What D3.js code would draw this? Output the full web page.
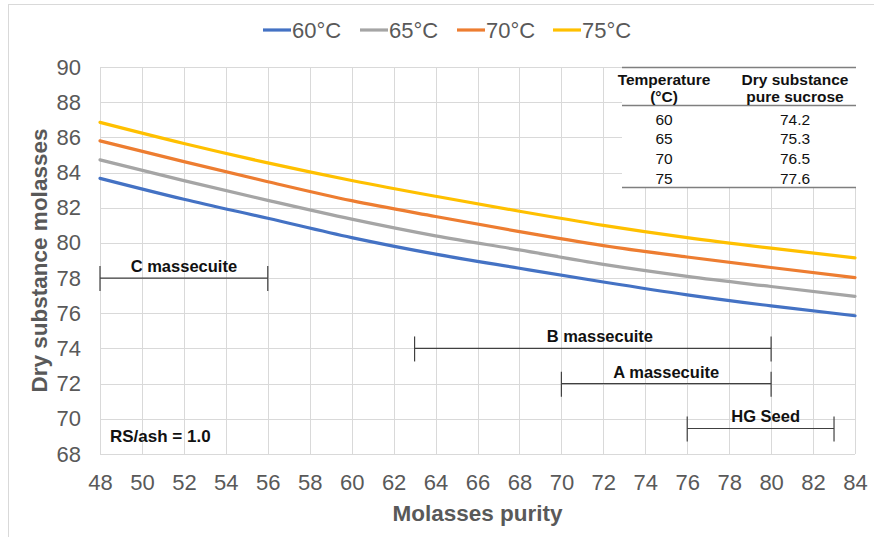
<!DOCTYPE html>
<html>
<head>
<meta charset="utf-8">
<script src="https://cdn.jsdelivr.net/npm/d3@7"></script>
<style>
  body { margin: 0; background: #fff; }
  svg { display: block; font-family: "Liberation Sans", Arial, sans-serif; }
</style>
</head>
<body>
<div id="chart"></div>
<script>
const purity = [48, 52, 56, 60, 64, 68, 72, 76, 80, 84]

const ds60 = [83.67, 82.48, 81.4, 80.3, 79.36, 78.56, 77.78, 77.05, 76.42, 75.86]
const ds65 = [84.72, 83.54, 82.42, 81.35, 80.4, 79.6, 78.78, 78.1, 77.52, 76.96]
const ds70 = [85.8, 84.62, 83.48, 82.4, 81.5, 80.64, 79.85, 79.2, 78.6, 78.03]
const ds75 = [86.85, 85.65, 84.55, 83.55, 82.65, 81.8, 81.0, 80.3, 79.7, 79.15]

const seriesNames = ['60°C', '65°C', '70°C', '75°C']
const seriesColors = ['#4472c4', '#a5a5a5', '#ed7d31', '#ffc000']

const xTicks = d3.range(48, 85, 2)
const yTicks = d3.range(68, 91, 2)

// ranges: label, from, to, level
const rangeLabels = ['C massecuite', 'B massecuite', 'A massecuite', 'HG Seed']
const rangeFrom = [48, 63, 70, 76]
const rangeTo = [56, 80, 80, 83]
const rangeLevel = [78, 74, 72, 69.45]

const tableTemp = ['60', '65', '70', '75']
const tableDs = ['74.2', '75.3', '76.5', '77.6']

const width = 874, height = 537
const margin = {top: 67, right: 19, bottom: 83, left: 100}

const svg = d3.select('#chart').append('svg')
  .attr('width', width)
  .attr('height', height)

// outer chart border
svg.append('rect')
  .attr('x', 8.5).attr('y', 4.5)
  .attr('width', 900).attr('height', 600)
  .attr('fill', '#fff')
  .attr('stroke', '#d9d9d9')

const x = d3.scaleLinear().domain([48, 84]).range([margin.left, width - margin.right])
const y = d3.scaleLinear().domain([68, 90]).range([height - margin.bottom, margin.top])

// grid
svg.append('g')
  .selectAll('line.v')
  .data(xTicks)
  .enter().append('line')
  .attr('x1', d => Math.round(x(d)) + 0.5)
  .attr('x2', d => Math.round(x(d)) + 0.5)
  .attr('y1', y(90)).attr('y2', y(68))
  .attr('stroke', '#d9d9d9')

svg.append('g')
  .selectAll('line.h')
  .data(yTicks)
  .enter().append('line')
  .attr('x1', x(48)).attr('x2', x(84))
  .attr('y1', d => Math.round(y(d)) + 0.5)
  .attr('y2', d => Math.round(y(d)) + 0.5)
  .attr('stroke', '#d9d9d9')

// axes (labels only)
const xaxis = svg.append('g')
  .attr('transform', 'translate(0,' + (height - margin.bottom) + ')')
  .call(d3.axisBottom(x).tickValues(xTicks).tickSize(0).tickPadding(20))
xaxis.select('.domain').remove()
xaxis.selectAll('text').style('font-size', '22px').attr('fill', '#595959')

const yaxis = svg.append('g')
  .attr('transform', 'translate(' + margin.left + ',0)')
  .call(d3.axisLeft(y).tickValues(yTicks).tickSize(0).tickPadding(19))
yaxis.select('.domain').remove()
yaxis.selectAll('text').style('font-size', '22px').attr('fill', '#595959')

// axis titles
svg.append('text')
  .attr('x', x(66)).attr('y', 521)
  .attr('text-anchor', 'middle')
  .style('font-size', '22.5px').style('font-weight', 'bold')
  .attr('fill', '#595959')
  .text('Molasses purity')

svg.append('text')
  .attr('transform', 'translate(47,' + y(79) + ') rotate(-90)')
  .attr('text-anchor', 'middle')
  .style('font-size', '22.5px').style('font-weight', 'bold')
  .attr('fill', '#595959')
  .text('Dry substance molasses')

// lines
const allSeries = [ds60, ds65, ds70, ds75]
const line = d3.line()
  .x((d, i) => x(purity[i]))
  .y(d => y(d))
  .curve(d3.curveMonotoneX)

svg.append('g')
  .selectAll('path')
  .data(allSeries)
  .enter().append('path')
  .attr('d', line)
  .attr('fill', 'none')
  .attr('stroke', (d, i) => seriesColors[i])
  .attr('stroke-width', 3.2)
  .attr('stroke-linecap', 'round')

// range bars
const ranges = rangeLabels.map((l, i) => ({label: l, from: rangeFrom[i], to: rangeTo[i], level: rangeLevel[i]}))
const rg = svg.append('g').selectAll('g').data(ranges).enter().append('g')

rg.append('line')
  .attr('x1', d => x(d.from)).attr('x2', d => x(d.to))
  .attr('y1', d => y(d.level)).attr('y2', d => y(d.level))
  .attr('stroke', '#404040').attr('stroke-width', 1.2)
rg.append('line')
  .attr('x1', d => x(d.from)).attr('x2', d => x(d.from))
  .attr('y1', d => y(d.level) - 12).attr('y2', d => y(d.level) + 13)
  .attr('stroke', '#404040').attr('stroke-width', 1.2)
rg.append('line')
  .attr('x1', d => x(d.to)).attr('x2', d => x(d.to))
  .attr('y1', d => y(d.level) - 12).attr('y2', d => y(d.level) + 13)
  .attr('stroke', '#404040').attr('stroke-width', 1.2)
rg.append('text')
  .attr('x', d => x((d.from + d.to) / 2) + (d.label === 'HG Seed' ? 5 : d.label === 'B massecuite' ? 7 : 0))
  .attr('y', d => y(d.level) - 6)
  .attr('text-anchor', 'middle')
  .style('font-size', '16.5px').style('font-weight', 'bold')
  .attr('fill', '#111')
  .text(d => d.label)

svg.append('text')
  .attr('x', 110).attr('y', y(69) + 6)
  .style('font-size', '17px').style('font-weight', 'bold')
  .attr('fill', '#111')
  .text('RS/ash = 1.0')

// inset table
const tbl = svg.append('g')
const tx0 = 622, tx1 = 856
tbl.append('rect')
  .attr('x', tx0).attr('y', 68).attr('width', tx1 - tx0).attr('height', 120)
  .attr('fill', '#fff')
tbl.selectAll('line')
  .data([67.5, 105.5, 187.5])
  .enter().append('line')
  .attr('x1', tx0).attr('x2', tx1)
  .attr('y1', d => d).attr('y2', d => d)
  .attr('stroke', '#7f7f7f').attr('stroke-width', 1.5)

const colT = 664, colD = 795
const headT = ['Temperature', '(°C)']
const headD = ['Dry substance', 'pure sucrose']
tbl.selectAll('text.ht').data(headT).enter().append('text')
  .attr('x', colT).attr('y', (d, i) => 85 + i * 17)
  .attr('text-anchor', 'middle')
  .style('font-size', '15.5px').style('font-weight', 'bold').attr('fill', '#111')
  .text(d => d)
tbl.selectAll('text.hd').data(headD).enter().append('text')
  .attr('x', colD).attr('y', (d, i) => 85 + i * 17)
  .attr('text-anchor', 'middle')
  .style('font-size', '15.5px').style('font-weight', 'bold').attr('fill', '#111')
  .text(d => d)
tbl.selectAll('text.rt').data(tableTemp).enter().append('text')
  .attr('x', colT).attr('y', (d, i) => 124.5 + i * 19.8)
  .attr('text-anchor', 'middle')
  .style('font-size', '15.5px').attr('fill', '#111')
  .text(d => d)
tbl.selectAll('text.rd').data(tableDs).enter().append('text')
  .attr('x', colD).attr('y', (d, i) => 124.5 + i * 19.8)
  .attr('text-anchor', 'middle')
  .style('font-size', '15.5px').attr('fill', '#111')
  .text(d => d)

// legend
const legendX = [263, 360, 457, 553]
const lg = svg.append('g').selectAll('g').data(seriesNames).enter().append('g')
  .attr('transform', (d, i) => 'translate(' + legendX[i] + ',30)')
lg.append('line')
  .attr('x1', 0).attr('x2', 28).attr('y1', 0).attr('y2', 0)
  .attr('stroke', (d, i) => seriesColors[i]).attr('stroke-width', 3.2)
lg.append('text')
  .attr('x', 29).attr('y', 8)
  .style('font-size', '22px').attr('fill', '#595959')
  .text(d => d)
</script>
</body>
</html>
